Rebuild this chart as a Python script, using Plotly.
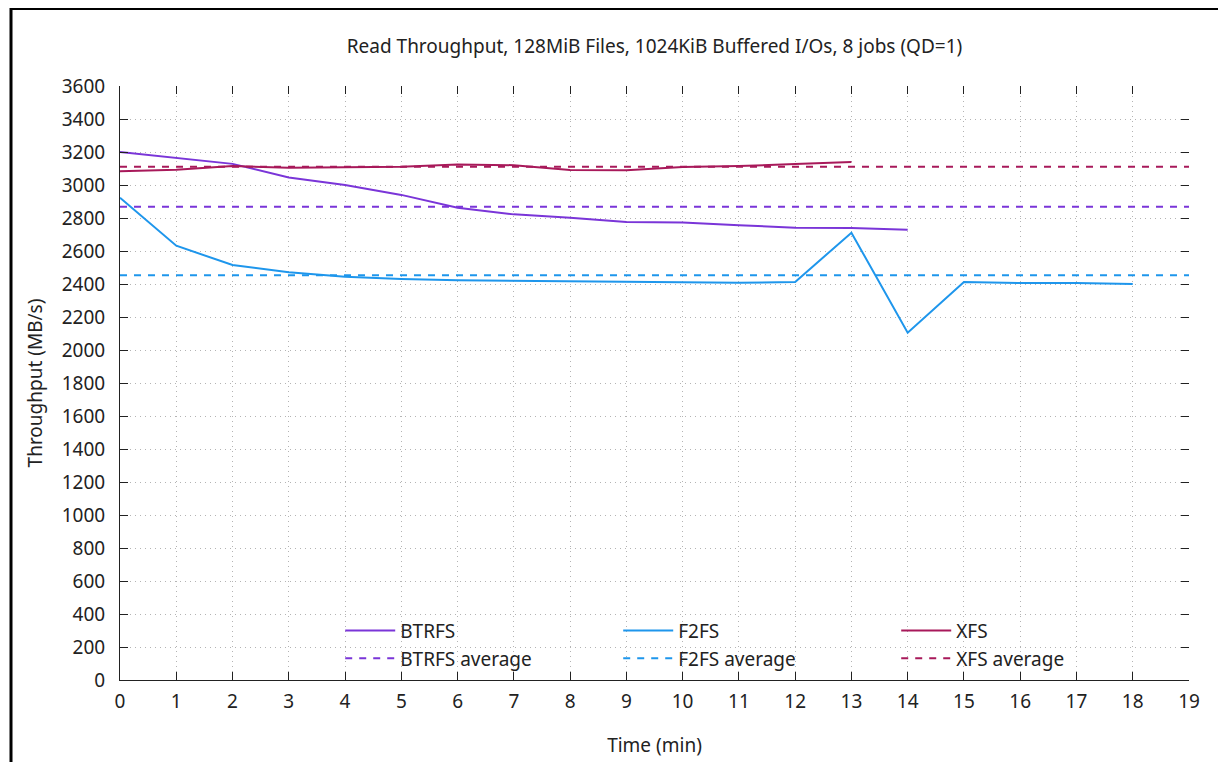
import plotly.graph_objects as go

minutes_btrfs = list(range(0, 15))
btrfs = [3200, 3162, 3128, 3046, 3000, 2940, 2862, 2822, 2802, 2776, 2772, 2756, 2741, 2739, 2729]

minutes_f2fs = list(range(0, 19))
f2fs = [2923, 2632, 2515, 2471, 2444, 2430, 2422, 2420, 2414, 2416, 2412, 2408, 2412, 2711, 2105,
        2412, 2406, 2406, 2400]

minutes_xfs = list(range(0, 14))
xfs = [3083, 3093, 3115, 3105, 3108, 3110, 3125, 3120, 3091, 3089, 3109, 3115, 3127, 3139]

avg_btrfs = 2868
avg_f2fs = 2453
avg_xfs = 3111

x_range = [0, 19]
y_range = [0, 3600]
x_ticks = list(range(0, 20))
y_ticks = list(range(0, 3601, 200))

c_btrfs = "#7a35d8"
c_f2fs = "#1e96ec"
c_xfs = "#a8195a"

FONT = "Noto Sans"
FS = 19

W, H = 1226, 762
ML, MR, MT, MB = 112, 45, 78, 90
PW, PH = W - ML - MR, H - MT - MB

fig = go.Figure()

fig.add_trace(go.Scatter(x=minutes_btrfs, y=btrfs, mode="lines", name="BTRFS",
                         line=dict(color=c_btrfs, width=2)))
fig.add_trace(go.Scatter(x=minutes_f2fs, y=f2fs, mode="lines", name="F2FS",
                         line=dict(color=c_f2fs, width=2)))
fig.add_trace(go.Scatter(x=minutes_xfs, y=xfs, mode="lines", name="XFS",
                         line=dict(color=c_xfs, width=2)))
fig.add_trace(go.Scatter(x=x_range, y=[avg_btrfs, avg_btrfs], mode="lines", name="BTRFS average",
                         line=dict(color=c_btrfs, width=2, dash="7px,7px")))
fig.add_trace(go.Scatter(x=x_range, y=[avg_f2fs, avg_f2fs], mode="lines", name="F2FS average",
                         line=dict(color=c_f2fs, width=2, dash="7px,7px")))
fig.add_trace(go.Scatter(x=x_range, y=[avg_xfs, avg_xfs], mode="lines", name="XFS average",
                         line=dict(color=c_xfs, width=2, dash="7px,7px")))

# invisible trace to activate mirrored tick axes (top/right)
fig.add_trace(go.Scatter(x=[x_range[0]], y=[y_range[0]], xaxis="x2", yaxis="y2", mode="markers",
                         marker=dict(opacity=0), showlegend=False, hoverinfo="skip"))

axis_common = dict(
    ticks="inside", ticklen=8, tickwidth=1, tickcolor="#222",
    showline=True, linecolor="#222", linewidth=1,
    showgrid=True, gridcolor="#b4b4b4", griddash="1px,4px", gridwidth=1,
    zeroline=False,
    tickfont=dict(family=FONT, size=FS, color="#222"),
)

fig.update_layout(
    width=W, height=H,
    paper_bgcolor="white", plot_bgcolor="white",
    margin=dict(l=ML, r=MR, t=MT, b=MB),
    font=dict(family=FONT, size=FS, color="#222"),
    title=dict(text="Read Throughput, 128MiB Files, 1024KiB Buffered I/Os, 8 jobs (QD=1)",
               x=0.5, xref="paper", xanchor="center", y=1 - 38 / H, yanchor="middle",
               font=dict(family=FONT, size=FS, color="#222")),
    xaxis=dict(range=x_range, tickvals=x_ticks, title=dict(text="Time (min)", standoff=25,
               font=dict(family=FONT, size=FS)), ticklabelstandoff=4, **axis_common),
    yaxis=dict(range=y_range, tickvals=y_ticks, title=dict(text="Throughput (MB/s)", standoff=14,
               font=dict(family=FONT, size=FS)), ticklabelstandoff=10, **axis_common),
    xaxis2=dict(overlaying="x", matches="x", side="top", anchor="y", range=x_range, tickvals=x_ticks,
                ticks="inside", ticklen=8, tickcolor="#222", showticklabels=False,
                showline=False, showgrid=False, zeroline=False),
    yaxis2=dict(overlaying="y", matches="y", side="right", anchor="x", range=y_range, tickvals=y_ticks,
                ticks="inside", ticklen=8, tickcolor="#222", showticklabels=False,
                showline=False, showgrid=False, zeroline=False),
    legend=dict(orientation="h", x=0.206, xanchor="left", y=0.115, yanchor="top",
                entrywidth=213, entrywidthmode="pixels", itemwidth=50,
                bgcolor="rgba(0,0,0,0)", font=dict(family=FONT, size=FS, color="#222"),
                traceorder="normal", tracegroupgap=0),
    showlegend=True,
)

# outer frame around the whole picture
fig.add_shape(type="rect", xref="paper", yref="paper",
              x0=(3 - ML) / PW, x1=(1213 - ML) / PW,
              y0=(PH + MT - (H + 20)) / PH, y1=(PH + MT - 0.5) / PH,
              line=dict(color="black", width=3), fillcolor="rgba(0,0,0,0)", layer="above")

fig.write_html("out.html")
